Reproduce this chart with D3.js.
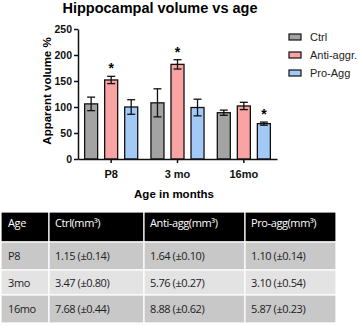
<!DOCTYPE html>
<html><head><meta charset="utf-8">
<script src="https://cdn.jsdelivr.net/npm/d3@7"></script>
<style>body{margin:0;background:#fff;}svg{display:block;}</style>
</head><body>
<svg id="c" width="358" height="326"></svg>
<script>
const categories = ["P8", "3 mo", "16mo"];
const seriesNames = ["Ctrl", "Anti-aggr.", "Pro-Agg"];
const ctrlValues = [106, 108, 89];
const ctrlErrors = [13, 27, 5];
const antiValues = [152, 182, 102];
const antiErrors = [7, 9, 7];
const proValues = [100, 99, 68];
const proErrors = [14, 16, 3];
const significant = [[false, true, false], [false, true, false], [false, false, true]];
const yTicks = [0, 50, 100, 150, 200, 250];
const tableHeader = ["Age", "Ctrl(mm³)", "Anti-agg(mm³)", "Pro-agg(mm³)"];
const tableRows = [
  ["P8", "1.15 (±0.14)", "1.64 (±0.10)", "1.10 (±0.14)"],
  ["3mo", "3.47 (±0.80)", "5.76 (±0.27)", "3.10 (±0.54)"],
  ["16mo", "7.68 (±0.44)", "8.88 (±0.62)", "5.87 (±0.23)"]
];

const colors = ["#a3a3a3", "#f9a3a3", "#a3c9f7"];
const series = [
  {vals: ctrlValues, errs: ctrlErrors},
  {vals: antiValues, errs: antiErrors},
  {vals: proValues, errs: proErrors}
];

const svg = d3.select("#c");
const font = "Arial, 'Liberation Sans', sans-serif";
const mLeft = 78, mRight = 277, mTop = 29, mBottom = 159;

const x0 = d3.scaleBand().domain(categories).range([mLeft, mRight]).paddingInner(0.2).paddingOuter(0.1);
const x1 = d3.scaleBand().domain(d3.range(3)).range([0, x0.bandwidth()]).paddingInner(0.35);
const y = d3.scaleLinear().domain([0, 250]).range([mBottom, mTop]);

// title
svg.append("text").attr("x", 160).attr("y", 13).attr("text-anchor", "middle")
  .attr("font-family", font).attr("font-weight", "bold").attr("font-size", 14.5)
  .text("Hippocampal volume vs age");

// bars
categories.forEach((c, ci) => {
  series.forEach((s, si) => {
    const bx = x0(c) + x1(si);
    const bw = x1.bandwidth();
    svg.append("rect").attr("x", bx).attr("y", y(s.vals[ci])).attr("width", bw)
      .attr("height", y(0) - y(s.vals[ci])).attr("fill", colors[si])
      .attr("stroke", "#111").attr("stroke-width", 1.3);
    const cx = bx + bw / 2;
    const hi = y(s.vals[ci] + s.errs[ci]), lo = y(s.vals[ci] - s.errs[ci]);
    const g = svg.append("g").attr("stroke", "#111").attr("stroke-width", 1.3);
    g.append("line").attr("x1", cx).attr("x2", cx).attr("y1", hi).attr("y2", lo);
    g.append("line").attr("x1", cx - 4).attr("x2", cx + 4).attr("y1", hi).attr("y2", hi);
    g.append("line").attr("x1", cx - 4).attr("x2", cx + 4).attr("y1", lo).attr("y2", lo);
    if (significant[ci][si]) {
      svg.append("text").attr("x", cx).attr("y", hi - 3).attr("text-anchor", "middle")
        .attr("font-family", font).attr("font-weight", "bold").attr("font-size", 14).text("*");
    }
  });
});

// axes
const yAxis = svg.append("g").attr("transform", `translate(${mLeft},0)`)
  .call(d3.axisLeft(y).tickValues(yTicks).tickSize(4).tickSizeOuter(0));
const xAxis = svg.append("g").attr("transform", `translate(0,${mBottom})`)
  .call(d3.axisBottom(x0).tickSize(4).tickSizeOuter(0));
[yAxis, xAxis].forEach(a => {
  a.select(".domain").attr("stroke", "#111").attr("stroke-width", 1.5);
  a.selectAll(".tick line").attr("stroke", "#111").attr("stroke-width", 1.5);
  a.selectAll("text").attr("font-family", font).attr("font-weight", "bold").attr("fill", "#111");
});
yAxis.selectAll("text").attr("font-size", 10.5).attr("x", -6);
xAxis.selectAll("text").attr("font-size", 11).attr("y", 11);

svg.append("text").attr("transform", "translate(51,91) rotate(-90)").attr("text-anchor", "middle")
  .attr("font-family", font).attr("font-weight", "bold").attr("font-size", 11.5)
  .text("Apparent volume %");
svg.append("text").attr("x", 174).attr("y", 198).attr("text-anchor", "middle")
  .attr("font-family", font).attr("font-weight", "bold").attr("font-size", 11.5)
  .text("Age in months");

// legend
seriesNames.forEach((n, i) => {
  const ly = 37 + i * 18;
  svg.append("rect").attr("x", 289).attr("y", ly - 3).attr("width", 12).attr("height", 6)
    .attr("fill", colors[i]).attr("stroke", "#111").attr("stroke-width", 1.2);
  svg.append("text").attr("x", 310).attr("y", ly + 4).attr("font-family", font)
    .attr("font-size", 11).attr("fill", "#222").text(n);
});

// table
const colX = [1, 49, 144, 245, 336];
const rowY = [212, 242, 270, 295, 323];
const rowFill = ["#000", "#c8c8c8", "#e3e3e3", "#c8c8c8"];
const tfont = "'Open Sans', sans-serif";
const allRows = [tableHeader].concat(tableRows);
allRows.forEach((row, ri) => {
  row.forEach((cell, ci) => {
    svg.append("rect").attr("x", colX[ci]).attr("y", rowY[ri])
      .attr("width", colX[ci + 1] - colX[ci]).attr("height", rowY[ri + 1] - rowY[ri])
      .attr("fill", rowFill[ri]).attr("stroke", "#fff").attr("stroke-width", 1.2);
    svg.append("text").attr("x", colX[ci] + (ci === 0 ? 7 : 6))
      .attr("y", ri === 0 ? rowY[ri] + 15 : (rowY[ri] + rowY[ri + 1]) / 2 + 4)
      .attr("font-family", tfont).attr("font-size", 11).attr("letter-spacing", -0.4)
      .attr("fill", ri === 0 ? "#fff" : "#222").text(cell);
  });
});
</script>
</body></html>
